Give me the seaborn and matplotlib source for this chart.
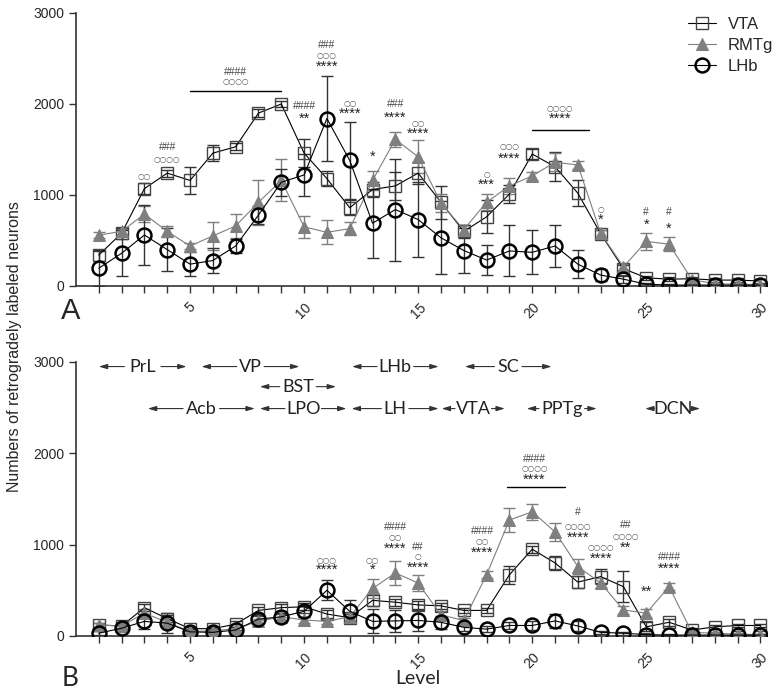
import numpy as np
import pandas as pd
import matplotlib
matplotlib.use("Agg")
import matplotlib.pyplot as plt
import seaborn as sns

levels = np.arange(1, 31)

# Panel A means and SD
vta_a = [340, 580, 1070, 1240, 1160, 1460, 1530, 1900, 2000, 1460, 1180, 860, 1060, 1100, 1240,
         920, 600, 760, 1010, 1450, 1310, 1020, 575, 190, 90, 75, 80, 65, 65, 55]
vta_a_sd = [60, 60, 60, 40, 150, 90, 40, 40, 30, 150, 80, 80, 80, 150, 120,
            180, 70, 180, 100, 60, 160, 145, 40, 40, 20, 20, 20, 20, 20, 20]
rmtg_a = [560, 600, 790, 600, 440, 550, 660, 920, 1160, 650, 590, 630, 1160, 1610, 1420,
          910, 620, 920, 1100, 1210, 1360, 1330, 580, 210, 490, 460, 70, 25, 20, 15]
rmtg_a_sd = [30, 30, 90, 60, 30, 150, 130, 250, 230, 120, 130, 70, 100, 85, 180,
             100, 50, 90, 90, 40, 100, 40, 40, 30, 90, 80, 20, 10, 10, 10]
lhb_a = [195, 360, 560, 400, 240, 280, 440, 780, 1140, 1220, 1840, 1380, 690, 840, 730,
         530, 390, 285, 385, 370, 440, 240, 120, 75, 20, 10, 10, 10, 10, 10]
lhb_a_sd = [190, 250, 330, 240, 130, 140, 80, 100, 150, 230, 470, 420, 380, 560, 410,
            400, 250, 165, 280, 240, 235, 155, 70, 40, 15, 10, 10, 10, 10, 10]

# Panel B means and SD
vta_b = [120, 110, 310, 190, 80, 80, 130, 280, 310, 320, 240, 200, 390, 370, 340,
         330, 280, 280, 670, 950, 800, 590, 650, 540, 100, 150, 65, 100, 115, 115]
vta_b_sd = [20, 30, 40, 40, 20, 20, 30, 40, 40, 40, 40, 40, 60, 40, 40,
            30, 30, 30, 100, 40, 80, 70, 80, 170, 50, 40, 20, 20, 20, 20]
rmtg_b = [120, 110, 250, 150, 50, 55, 80, 160, 210, 175, 160, 210, 520, 690, 580,
          230, 170, 670, 1270, 1360, 1140, 760, 580, 285, 250, 540, 40, 30, 20, 15]
rmtg_b_sd = [20, 20, 40, 40, 20, 20, 20, 30, 40, 30, 30, 40, 100, 130, 90,
             40, 30, 40, 130, 90, 100, 80, 60, 40, 50, 40, 10, 10, 10, 10]
lhb_b = [30, 85, 160, 140, 45, 40, 65, 185, 210, 270, 500, 270, 160, 165, 170,
         150, 95, 75, 115, 115, 165, 110, 40, 30, 15, 10, 10, 10, 10, 10]
lhb_b_sd = [20, 30, 80, 110, 30, 30, 30, 40, 40, 60, 110, 120, 130, 120, 110,
            70, 40, 30, 40, 50, 80, 50, 20, 15, 10, 10, 10, 10, 10, 10]

# significance marks: (level, value, text)
marks_a = [(3, 1200, "○○"), (4, 1530, "###"), (4, 1390, "○○○○"),
           (7, 2350, "####"), (7, 2245, "○○○○"),
           (10, 1975, "####"), (10, 1840, "**"),
           (11, 2645, "###"), (11, 2530, "○○○"), (11, 2405, "****"),
           (12, 2005, "○○"), (12, 1895, "****"), (13, 1420, "*"),
           (14, 1995, "###"), (14, 1850, "****"), (15, 1785, "○○"), (15, 1675, "****"),
           (18, 1230, "○"), (18, 1115, "***"), (19, 1530, "○○○"), (19, 1400, "****"),
           (21.2, 1955, "○○○○"), (21.2, 1835, "****"),
           (23, 840, "○"), (23, 725, "*"), (25, 815, "#"), (25, 675, "*"),
           (26, 810, "#"), (26, 630, "*")]
bars_a = [(5, 9, 2140), (20, 22.5, 1715)]

marks_b = [(11, 830, "○○○"), (11, 720, "****"), (13, 830, "○○"), (13, 720, "*"),
           (14, 1195, "####"), (14, 1075, "○○"), (14, 960, "****"),
           (15, 975, "##"), (15, 865, "○"), (15, 750, "****"),
           (17.8, 1150, "####"), (17.8, 1030, "○○"), (17.8, 915, "****"),
           (20.1, 1935, "####"), (20.1, 1830, "○○○○"), (20.1, 1705, "****"),
           (22, 1355, "#"), (22, 1200, "○○○○"), (22, 1070, "****"),
           (23, 970, "○○○○"), (23, 840, "****"),
           (24.1, 1215, "##"), (24.1, 1090, "○○○○"), (24.1, 965, "**"),
           (25, 485, "**"), (26, 860, "####"), (26, 740, "****")]
bars_b = [(18.9, 21.45, 1635)]

# brain regions: (name, start level, end level, value row)
regions = [("PrL", 1.0, 4.85, 2950), ("VP", 5.5, 9.8, 2950), ("LHb", 12.1, 15.9, 2950),
           ("SC", 17.05, 20.85, 2950), ("BST", 8.06, 11.4, 2730),
           ("Acb", 3.15, 7.84, 2490), ("LPO", 8.06, 11.86, 2490), ("LH", 12.08, 15.9, 2490),
           ("VTA", 16.03, 18.8, 2490), ("PPTg", 19.76, 22.83, 2490), ("DCN", 24.95, 27.36, 2490)]

sns.set_style("ticks")
plt.rcParams["font.family"] = ["Liberation Sans", "DejaVu Sans"]

fig = plt.figure(figsize=(7.81, 6.94), dpi=100)
ax_a = fig.add_axes([0.0973, 0.5879, 0.885, 0.3934])
ax_b = fig.add_axes([0.0973, 0.0836, 0.885, 0.3948])

GREY = "#7f7f7f"
DARK = "#333333"


def draw_panel(ax, vta, vta_sd, rmtg, rmtg_sd, lhb, lhb_sd, legend):
    ax.errorbar(levels, vta, yerr=vta_sd, fmt="none", ecolor=DARK, elinewidth=1, capsize=4, capthick=1, zorder=2)
    ax.errorbar(levels, rmtg, yerr=rmtg_sd, fmt="none", ecolor=GREY, elinewidth=1, capsize=4, capthick=1, zorder=2)
    ax.errorbar(levels, lhb, yerr=lhb_sd, fmt="none", ecolor=DARK, elinewidth=1, capsize=4, capthick=1, zorder=2)
    sns.lineplot(x=levels, y=vta, ax=ax, color="black", lw=0.8, marker="s", markersize=9,
                 markerfacecolor="none", markeredgecolor="#444444", markeredgewidth=1.0,
                 label="VTA" if legend else None, zorder=3)
    sns.lineplot(x=levels, y=rmtg, ax=ax, color=GREY, lw=0.8, marker="^", markersize=9,
                 markerfacecolor=GREY, markeredgecolor=GREY,
                 label="RMTg" if legend else None, zorder=4)
    sns.lineplot(x=levels, y=lhb, ax=ax, color="black", lw=0.8, marker="o", markersize=10,
                 markerfacecolor="none", markeredgecolor="black", markeredgewidth=1.8,
                 label="LHb" if legend else None, zorder=5)
    ax.set_xlim(0, 30.3)
    ax.set_ylim(0, 3000)
    ax.set_yticks([0, 1000, 2000, 3000])
    ax.set_xticks(levels, minor=True)
    ax.set_xticks([5, 10, 15, 20, 25, 30])
    ax.set_xticklabels(["5", "10", "15", "20", "25", "30"], rotation=45, ha="center")
    ax.tick_params(axis="both", which="both", length=5, width=1, color=DARK, labelsize=10)
    ax.tick_params(axis="x", pad=5)
    ax.set_xlabel("")
    ax.set_ylabel("")
    sns.despine(ax=ax)
    for s in ["left", "bottom"]:
        ax.spines[s].set_color(DARK)
        ax.spines[s].set_linewidth(1.2)


def draw_marks(ax, marks, bars):
    for lv, val, txt in marks:
        if "○" in txt:
            ax.text(lv, val, txt, ha="center", va="center", fontsize=5.5, color="#555555",
                    family=["DejaVu Sans"])
        elif "#" in txt:
            ax.text(lv, val, txt, ha="center", va="center", fontsize=7.5, color="#444444")
        else:
            ax.text(lv, val, txt, ha="center", va="center", fontsize=10.5, color="#222222")
    for x0, x1, val in bars:
        ax.plot([x0, x1], [val, val], color="black", lw=1)


draw_panel(ax_a, vta_a, vta_a_sd, rmtg_a, rmtg_a_sd, lhb_a, lhb_a_sd, True)
draw_panel(ax_b, vta_b, vta_b_sd, rmtg_b, rmtg_b_sd, lhb_b, lhb_b_sd, False)
draw_marks(ax_a, marks_a, bars_a)
draw_marks(ax_b, marks_b, bars_b)

ax_a.legend(loc="upper right", bbox_to_anchor=(1.03, 1.04), frameon=False, fontsize=12,
            handlelength=1.7, handletextpad=0.7, labelspacing=0.35)

# region labels with arrows in panel B
for name, x0, x1, val in regions:
    cx = (x0 + x1) / 2
    gap = 0.2 * len(name) + 0.2
    ax_b.text(cx, val, name, ha="center", va="center", fontsize=13, color="#222222",
              family=["Lato", "DejaVu Sans"])
    for start, end in [(cx - gap, x0), (cx + gap, x1)]:
        ax_b.annotate("", xy=(end, val), xytext=(start, val),
                      arrowprops=dict(arrowstyle="-|>,head_length=0.5,head_width=0.15",
                                      color="#333333", lw=0.8, shrinkA=0, shrinkB=0))

fig.text(0.018, 0.50, "Numbers of retrogradely labeled neurons", rotation=90,
         ha="center", va="center", fontsize=11.5)
fig.text(0.535, 0.022, "Level", ha="center", va="center", fontsize=14,
         family=["Lato", "DejaVu Sans"])
fig.text(0.09, 0.552, "A", ha="center", va="center", fontsize=21)
fig.text(0.09, 0.022, "B", ha="center", va="center", fontsize=19,
         family=["Lato", "DejaVu Sans"])

fig.savefig("out.png", dpi=100)
